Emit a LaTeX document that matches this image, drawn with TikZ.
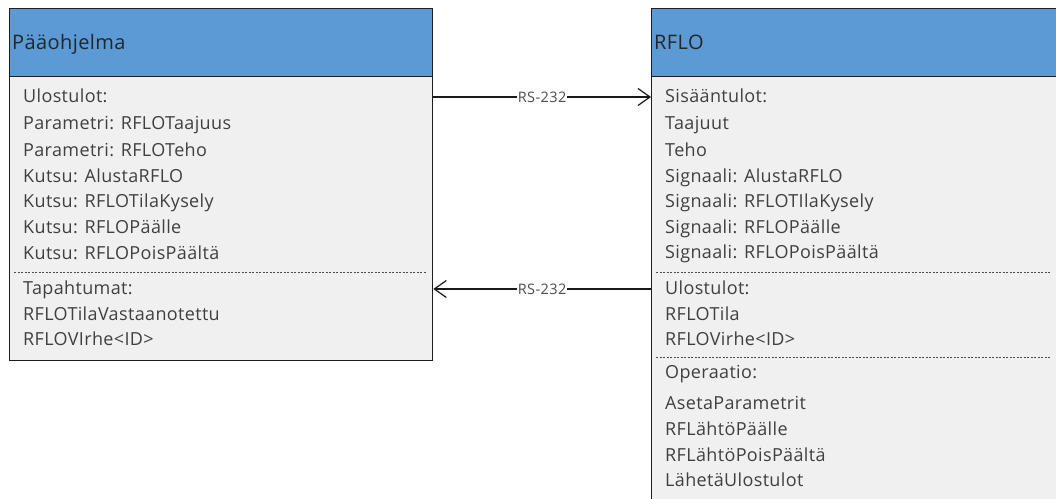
\documentclass[tikz,border=0pt]{standalone}
\usepackage{fontspec}
\setmainfont{Open Sans}
\usetikzlibrary{arrows.meta,calc}
\definecolor{hdr}{HTML}{5B9AD5}
\definecolor{bodyfill}{HTML}{F0F0F0}
\definecolor{txt}{HTML}{404040}
\definecolor{brd}{HTML}{1E1E1E}
\begin{document}
\begin{tikzpicture}[x=1pt,y=-1pt,
  hdrbox/.style={draw=brd,line width=1.3pt,fill=hdr,inner sep=0pt},
  bodybox/.style={draw=brd,line width=1.3pt,fill=bodyfill,inner sep=0pt},
  htext/.style={anchor=base west,inner sep=0pt,text=black!85,font=\fontsize{20}{20}\selectfont\addfontfeatures{LetterSpace=2}},
  item/.style={anchor=base west,inner sep=0pt,text=txt,font=\fontsize{18}{18}\selectfont\addfontfeatures{LetterSpace=2}},
  sep/.style={dash pattern=on 2pt off 1.5pt,line width=0.8pt,draw=black!70},
  conn/.style={line width=1.2pt,draw=black!90,-{Straight Barb[length=12pt,width=17pt,line width=1.2pt]}},
  lbl/.style={fill=white,inner sep=0.5pt,text=black!70,font=\fontsize{14.5}{14.5}\selectfont\addfontfeatures{LetterSpace=3}}
]
\useasboundingbox (0,0) rectangle (1056,498);
\clip (0,0) rectangle (1056,498);
% left box
\node[hdrbox,minimum width=423,minimum height=68,anchor=north west] (lhead) at (9,8) {};
\node[bodybox,minimum width=423,minimum height=284,anchor=north west] (lbody) at (9,76) {};
\node[htext] (lt) at (12,49) {Pääohjelma};
\node[item] (l1) at (23,102.5) {Ulostulot:};
\node[item] (l2) at (23,129) {Parametri: RFLOTaajuus};
\node[item] (l3) at (23,156.5) {Parametri: RFLOTeho};
\node[item] (l4) at (23,182.5) {Kutsu: AlustaRFLO};
\node[item] (l5) at (23,207.5) {Kutsu: RFLOTilaKysely};
\node[item] (l6) at (23,233.5) {Kutsu: RFLOPäälle};
\node[item] (l7) at (23,259) {Kutsu: RFLOPoisPäältä};
\node[item] (l8) at (23,294.5) {Tapahtumat:};
\node[item] (l9) at (23,320.5) {RFLOTilaVastaanotettu};
\node[item] (l10) at (23,345.5) {RFLOVIrhe<ID>};
\draw[sep] (14,272) -- (427,272);
% right box
\node[hdrbox,minimum width=420,minimum height=68,anchor=north west] (rhead) at (651,8) {};
\node[bodybox,minimum width=420,minimum height=450,anchor=north west] (rbody) at (651,76) {};
\node[htext] (rt) at (654,49) {RFLO};
\node[item] (r1) at (665,102.5) {Sisääntulot:};
\node[item] (r2) at (665,129.5) {Taajuut};
\node[item] (r3) at (665,156.5) {Teho};
\node[item] (r4) at (665,182.5) {Signaali: AlustaRFLO};
\node[item] (r5) at (665,207.5) {Signaali: RFLOTIlaKysely};
\node[item] (r6) at (665,233.5) {Signaali: RFLOPäälle};
\node[item] (r7) at (665,258.5) {Signaali: RFLOPoisPäältä};
\node[item] (r8) at (665,294.5) {Ulostulot:};
\node[item] (r9) at (665,320.5) {RFLOTila};
\node[item] (r10) at (665,345.5) {RFLOVirhe<ID>};
\node[item] (r11) at (665,378.5) {Operaatio:};
\node[item] (r12) at (665,409.5) {AsetaParametrit};
\node[item] (r13) at (665,435.5) {RFLähtöPäälle};
\node[item] (r14) at (665,461.5) {RFLähtöPoisPäältä};
\node[item] (r15) at (665,486.5) {LähetäUlostulot};
\draw[sep] (656,272) -- (1050,272);
\draw[sep] (656,357) -- (1050,357);
% connectors
\draw[conn] (lbody.east |- 0,97) -- node[lbl,pos=0.5] {RS-232} (rbody.west |- 0,97);
\draw[conn] (rbody.west |- 0,289) -- node[lbl,pos=0.5] {RS-232} (lbody.east |- 0,289);
\end{tikzpicture}
\end{document}
